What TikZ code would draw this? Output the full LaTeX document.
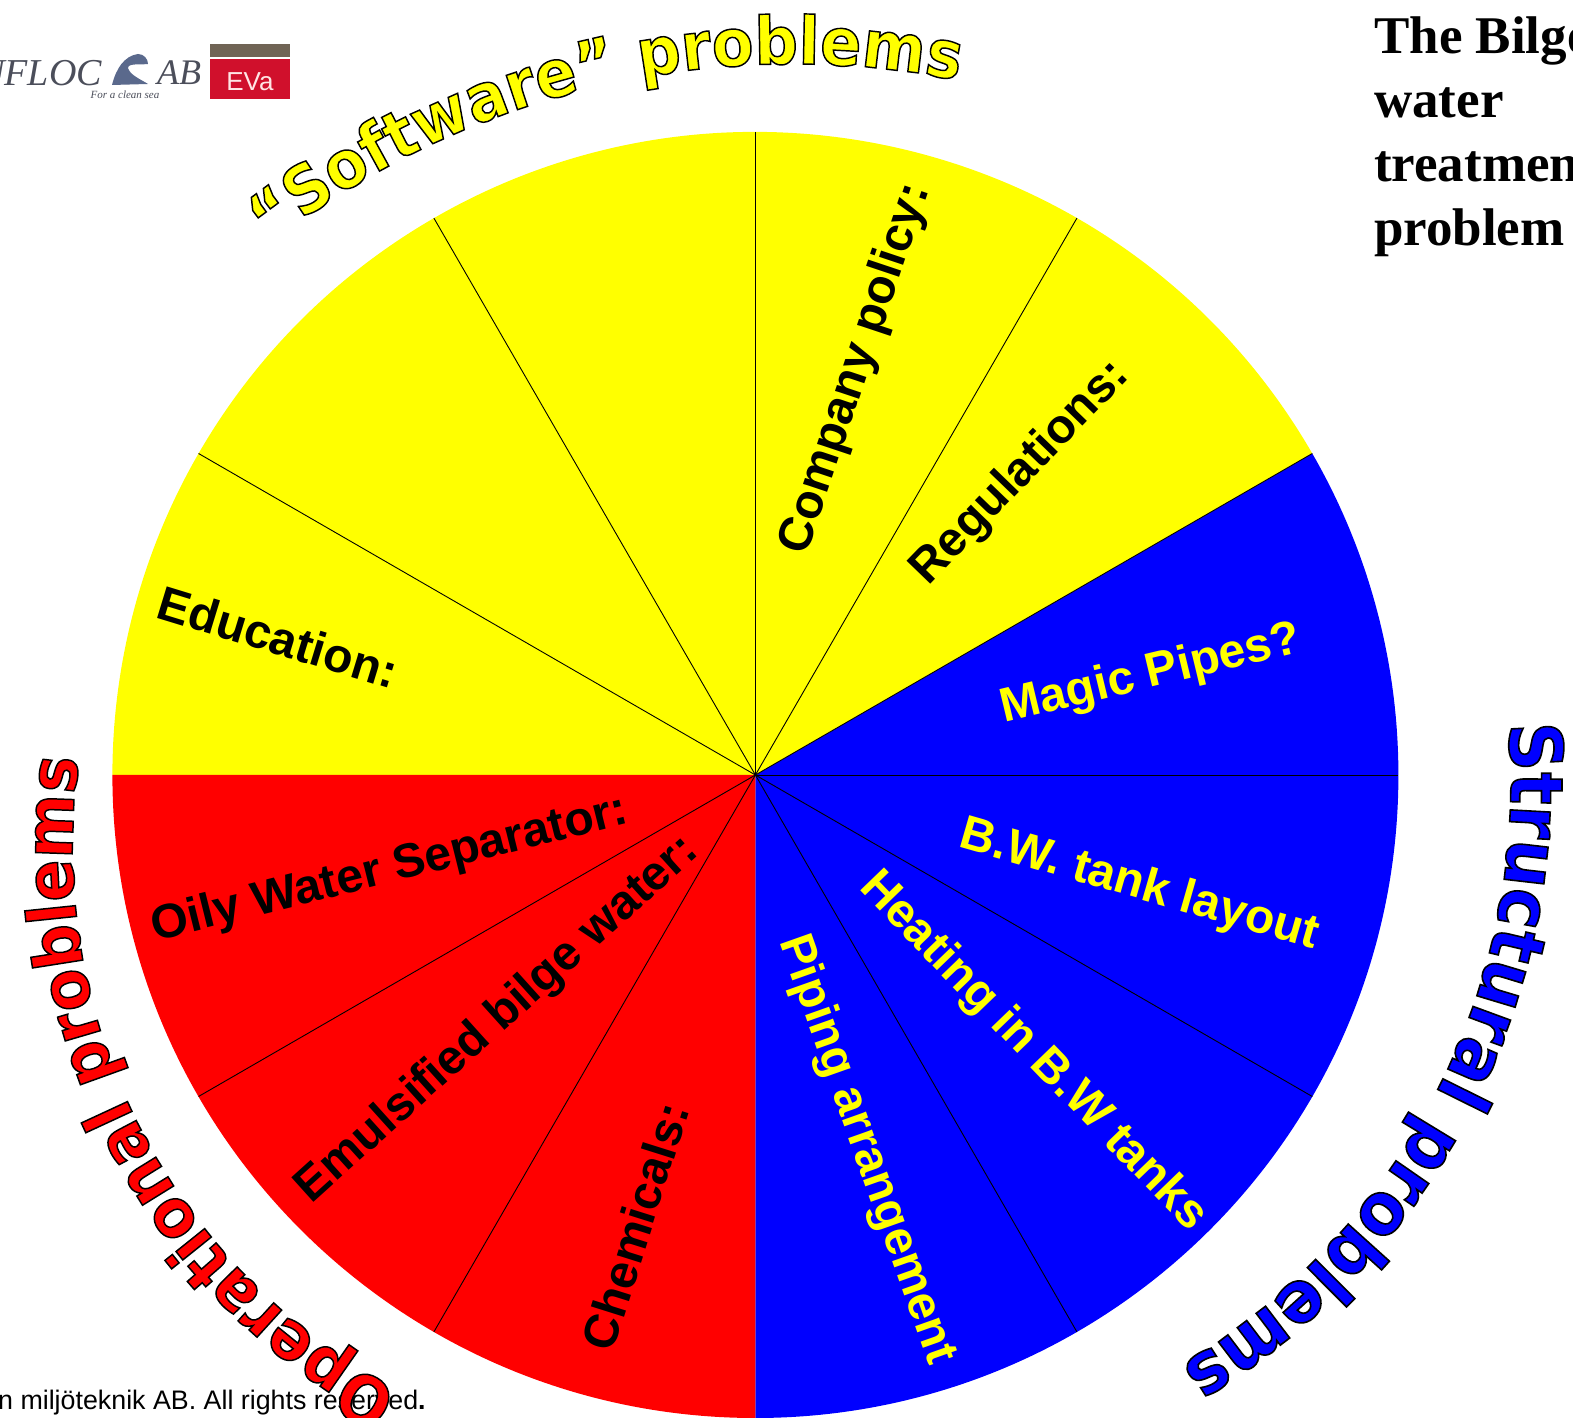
\documentclass[tikz,border=0pt]{standalone}
\usepackage{fontspec}
\usetikzlibrary{decorations.text}
\setmainfont{Liberation Sans}
\newfontfamily\labfont{Liberation Sans Bold}
\newfontfamily\headfont{Liberation Serif Bold}
\newfontfamily\logofont{Liberation Serif Italic}
\newfontfamily\ttlfont[FakeBold=2.2,FakeStretch=0.92]{DejaVu Sans Bold}
\definecolor{pieyellow}{RGB}{255,255,0}
\definecolor{piered}{RGB}{255,0,0}
\definecolor{pieblue}{RGB}{0,0,255}
\definecolor{logobrown}{RGB}{112,100,85}
\definecolor{logored}{RGB}{208,16,44}
\definecolor{logowave}{RGB}{90,105,140}
\definecolor{logotext}{RGB}{75,78,90}
\tikzset{
  label text/.style={font=\labfont\fontsize{48}{48}\selectfont,inner sep=0pt},
  spoke/.style={draw=black,line width=0.9pt},
}
\newcommand{\lab}[6]{\node[label text,text=#5,rotate=#4] (#1) at (#2,{1417-#3}) {#6};}
\begin{document}
\begin{tikzpicture}[x=1pt,y=1pt]
\useasboundingbox (0,0) rectangle (1573,1417);
\clip (0,0) rectangle (1573,1417);
\coordinate (C) at (755.4,642);
\def\R{643}
% sectors
\fill[pieblue] (C) -- +(-90:\R) arc[start angle=-90,end angle=30,radius=\R] -- cycle;
\fill[pieyellow] (C) -- +(30:\R) arc[start angle=30,end angle=180,radius=\R] -- cycle;
\fill[piered] (C) -- +(180:\R) arc[start angle=180,end angle=270,radius=\R] -- cycle;
\foreach \a in {-60,-30,0,30,60,90,120,150,210,240}{\draw[spoke] (C) -- +(\a:\R);}
% labels
\lab{company}{856}{369}{71.5}{black}{Company policy:}
\lab{regul}{1021}{473}{46}{black}{Regulations:}
\lab{educ}{278}{637}{-17}{black}{Education:}
\lab{magic}{1151}{675}{13.5}{pieyellow}{Magic Pipes?}
\lab{tank}{1139}{886}{-16}{pieyellow}{B.W. tank layout}
\lab{heat}{1033}{1052}{-46}{pieyellow}{Heating in B.W tanks}
\lab{piping}{866}{1150}{-70.5}{pieyellow}{Piping arrangement}
\lab{chem}{635}{1226}{72.5}{black}{Chemicals:}
\lab{emul}{498}{1020}{42}{black}{Emulsified bilge water:}
\lab{oily}{390}{870}{14}{black}{Oily Water Separator:}
% header
\node[font=\headfont\fontsize{53}{64}\selectfont,anchor=north west,align=left,inner sep=0pt] (head) at (1374,1417-17) {The Bilge\\water\\treatment\\problem};
% logo
\node[font=\logofont\fontsize{38}{38}\selectfont,text=logotext,anchor=east,inner sep=0pt] (floc) at (102,1344) {UFLOC};
\fill[logowave] (112,1332) .. controls (116,1348) and (124,1361) .. (138,1363) .. controls (144,1363) and (148,1358) .. (148,1353) .. controls (140,1352) and (128,1354) .. (128,1349) .. controls (130,1342) and (140,1338) .. (148,1333) -- cycle;
\node[font=\logofont\fontsize{36}{36}\selectfont,text=logotext,anchor=west,inner sep=0pt] (ab) at (157,1344) {AB};
\node[font=\logofont\fontsize{11}{11}\selectfont,text=logotext,inner sep=0pt] (clean) at (125,1322) {For a clean sea};
\fill[logobrown] (210,1360) rectangle (290,1373);
\fill[logored] (210,1318) rectangle (290,1358);
\node[font=\fontsize{26}{26}\selectfont,text=white!90!red,inner sep=0pt] (eva) at (250,1335) {EVa};
% footer
\node[font=\fontsize{26.8}{26.8}\selectfont,anchor=base west,inner sep=0pt] (foot) at (-2,8) {n miljöteknik AB. All rights reserved\textbf{.}};
% arc titles
\path[decorate,decoration={text along path,text align=left,text={|\ttlfont\fontsize{66}{66}\selectfont\color{pieyellow}\special{pdf:code 0 0 0 RG}|“Software” problems}}]
  (792.5,504) ++(128:849) arc[start angle=128,end angle=60,radius=849];
\path[decorate,decoration={text along path,text align=left,text={|\ttlfont\fontsize{73}{73}\selectfont\color{pieblue}\special{pdf:code 0 0 0 RG}|Structural problems}}]
  (831.7,634) ++(5:679) arc[start angle=5,end angle=-80,radius=679];
\path[decorate,decoration={text along path,text align=left,text={|\ttlfont\fontsize{67}{67}\selectfont\color{piered}\special{pdf:code 0 0 0 RG}|Operational problems}}]
  (688.7,569.4) ++(242:616) arc[start angle=242,end angle=150,radius=616];
\end{tikzpicture}
\end{document}
